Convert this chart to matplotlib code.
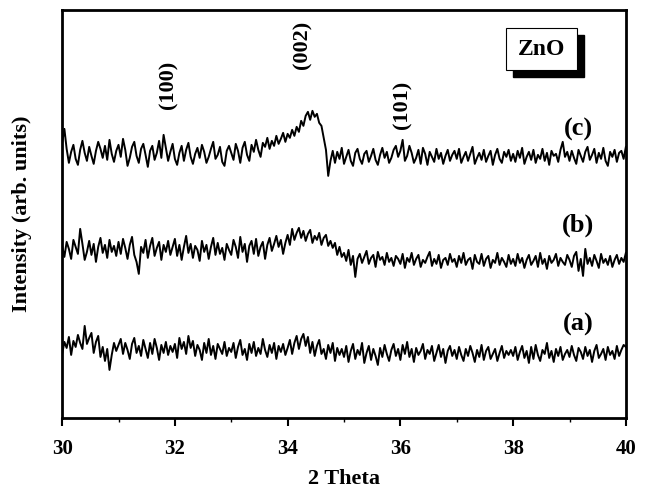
import numpy as np
import matplotlib
matplotlib.use('Agg')
import matplotlib.pyplot as plt
from matplotlib.patches import Rectangle

plt.rcParams['font.family'] = ['Liberation Serif', 'DejaVu Serif']
plt.rcParams['font.weight'] = 'bold'

# intensities (arb. units) above each trace's own baseline, 2theta 30..40, step 0.04
int_c = [12, 26, 6, -8, 3, 10, -4, -10, 5, 14, 2, -6, 8, -1, -9, 4, 13, 6, -3, 9, -5, 15, 1, -7, 4,
         10, -2, 16, 5, -11, -3, 8, 13, -1, -8, 6, 11, 0, -12, 4, 9, -5, 2, 14, -3, 20, 7, -6, 3, 11,
         -4, -10, 2, 9, -6, 5, 12, -2, -9, 1, 7, -3, 10, 3, -8, -2, 6, 13, -4, 0, 8, -7, -11, 4, 9,
         2, -5, 11, 4, -8, 7, 13, 0, -6, 10, 3, 15, 5, -2, 12, 8, 17, 6, 14, 9, 19, 11, 16, 22, 13,
         21, 17, 25, 19, 28, 23, 34, 29, 39, 43, 35, 44, 38, 41, 32, 29, 17, 5, -21, -6, 4, -8, 3, -4, 7,
         -9, -2, 5, -6, -11, 2, 6, -4, -9, 1, 4, -7, -1, 6, -5, -10, 0, 7, -3, 3, -8, -3, 5, 9, -2,
         4, 15, -6, -1, 9, 2, -8, -3, 5, -9, 7, 1, -10, 3, -2, -7, 6, -4, 2, -9, -1, 5, -6, 0, 4,
         -4, 6, -8, -2, 3, -6, 1, 8, -9, -3, 2, -5, 5, -7, -1, 4, -10, 0, 6, -4, -8, 3, -2, 5, -6,
         1, -7, 4, -3, 7, -9, -2, 3, -5, 5, -8, 0, -4, 6, -6, 2, -10, 4, -1, 1, -7, 5, 13, -2, 3,
         -6, 4, -3, -9, 5, -1, -7, 3, 8, -5, 0, 6, -8, 2, -4, 7, -6, -11, 3, -2, 5, -7, 2, 4, -4, 8]

int_b = [4, -7, 8, 1, -9, 10, 3, -4, 21, 6, -10, -2, 9, -5, 6, -12, 3, 12, -3, 5, -8, 10, -2, 4, -6,
         8, -4, 11, 2, -9, 5, 13, -5, -12, -24, 3, -3, 10, -8, 4, 12, -6, 2, 8, -10, 5, -2, 9, -5, 3,
         11, -6, 5, -10, 3, 14, -3, 6, -8, 4, 0, -11, 9, -2, 5, -9, 3, 12, -5, 7, -4, 2, -10, 6, 0,
         -5, 10, 3, -8, 13, -2, 6, -12, 4, 9, -4, 11, -6, 3, 8, -9, 5, 12, -1, 6, 14, 3, 10, -4, 7,
         15, 5, 21, 10, 17, 22, 12, 19, 9, 16, 20, 7, 14, 10, 17, 5, 12, 15, 4, 9, 2, 7, -5, 3, -7,
         -3, -11, 0, -15, -6, -27, -9, -4, -13, -7, -1, -14, -8, -5, -17, -2, -10, -7, -15, -3, -12, -8, -16, -6, -9,
         -14, -4, -18, -8, -12, -3, -15, -9, -5, -17, -10, -13, -7, -2, -16, -9, -14, -5, -18, -10, -8, -15, -4, -12, -9,
         -17, -6, -13, -3, -15, -10, -8, -19, -5, -12, -14, -4, -16, -9, -6, -18, -10, -13, -3, -15, -8, -12, -17, -5, -14,
         -9, -16, -4, -13, -8, -18, -10, -5, -15, -11, -6, -17, -3, -14, -9, -19, -6, -13, -10, -4, -16, -8, -12, -15, -5,
         -10, -17, -6, -2, -21, -9, -26, 1, -14, -8, -16, -5, -11, -18, -4, -13, -9, -15, -6, -17, -10, -5, -14, -8, -12, -3]

int_a = [-4, 8, 2, 13, -5, 9, 3, 15, 7, 1, 24, 6, 12, 17, -3, 8, 14, -7, 3, -11, 1, -20, -5, 7, -1,
         5, 11, -4, 7, 0, -9, 6, 12, -3, 4, -6, 10, 1, -8, 7, -4, 11, 2, -10, 5, -3, 8, -5, 4, -2,
         6, -8, 12, 1, 8, -4, 14, 2, 9, -6, 5, 0, -10, 7, -3, 11, -5, 4, -9, 6, 1, -4, 8, -6, 2,
         -2, 7, -8, 3, 10, -5, 1, -10, 6, -3, 8, -6, 2, -4, 11, 0, -7, 5, -3, 7, -9, 4, -2, 6, -5,
         2, 10, -4, 7, 14, 1, 11, 16, 4, 13, -3, 8, -6, 4, 10, -4, 1, -9, 5, -3, 7, -11, 2, -5, 1,
         -7, 4, -12, -1, 6, -9, 0, -5, 7, -13, -3, 4, -10, 1, -6, -15, 2, -7, 5, -4, -11, 0, 6, -6, 1,
         -10, 5, -4, 8, -7, 1, -12, 2, -5, -1, 6, -9, 0, -4, 4, -11, -3, 5, -7, 1, -13, -1, 4, -6, 0,
         -9, 3, -5, -11, 1, -6, 4, -3, -12, 0, -7, 5, -10, -1, 3, -9, -4, 1, -11, -3, 4, -8, -1, -5, 0,
         -6, 3, -10, -2, 4, -8, -1, -13, 3, -9, 5, -5, -11, 0, -4, 7, -8, -1, -12, 1, -6, 3, -10, -4, 0,
         -7, 4, -5, -11, 2, -2, -9, 3, -6, 0, -12, -1, 5, -8, -4, 1, -10, 3, -5, -1, -9, 4, -6, 0, 5, 3]

offsets = {'a': 68, 'b': 168, 'c': 263}
peaks = [(31.88, '(100)', 333), (34.27, '(002)', 373), (36.03, '(101)', 313)]

fig = plt.figure(figsize=(6.54, 4.9), dpi=100)
ax = fig.add_axes([0.095, 0.147, 0.862, 0.833])

for key, vals in (('a', int_a), ('b', int_b), ('c', int_c)):
    tt = np.linspace(30, 40, len(vals))
    ax.plot(tt, np.array(vals) + offsets[key], color='black', lw=1.4)
    ax.text(39.15, offsets[key] + 25, '(%s)' % key, fontsize=19, fontweight='bold', ha='center', va='center')

for x, lab, y in peaks:
    ax.text(x, y, lab, rotation=90, fontsize=16, fontweight='bold', ha='center', va='center')

# ZnO boxed label with drop shadow
ax.add_patch(Rectangle((38.0, 341), 1.26, 42, color='black', zorder=3))
ax.add_patch(Rectangle((37.87, 348), 1.26, 42, facecolor='white', edgecolor='black', lw=0.8, zorder=4))
ax.text(38.5, 368, 'ZnO', fontsize=17, fontweight='bold', ha='center', va='center', zorder=5)

ax.set_xlim(30, 40)
ax.set_ylim(0, 408)
ax.set_xticks([30, 32, 34, 36, 38, 40])
ax.set_xticks([31, 33, 35, 37, 39], minor=True)
ax.set_yticks([])
ax.tick_params(axis='x', which='major', length=6, width=1.5, labelsize=15, pad=9)
ax.tick_params(axis='x', which='minor', length=3, width=1)
for lab in ax.get_xticklabels():
    lab.set_fontweight('bold')
for sp in ax.spines.values():
    sp.set_linewidth(2)

ax.set_xlabel('2 Theta', fontsize=16, fontweight='bold', labelpad=7)
ax.set_ylabel('Intensity (arb. units)', fontsize=16, fontweight='bold', labelpad=22)

fig.savefig('out.png', dpi=100)
